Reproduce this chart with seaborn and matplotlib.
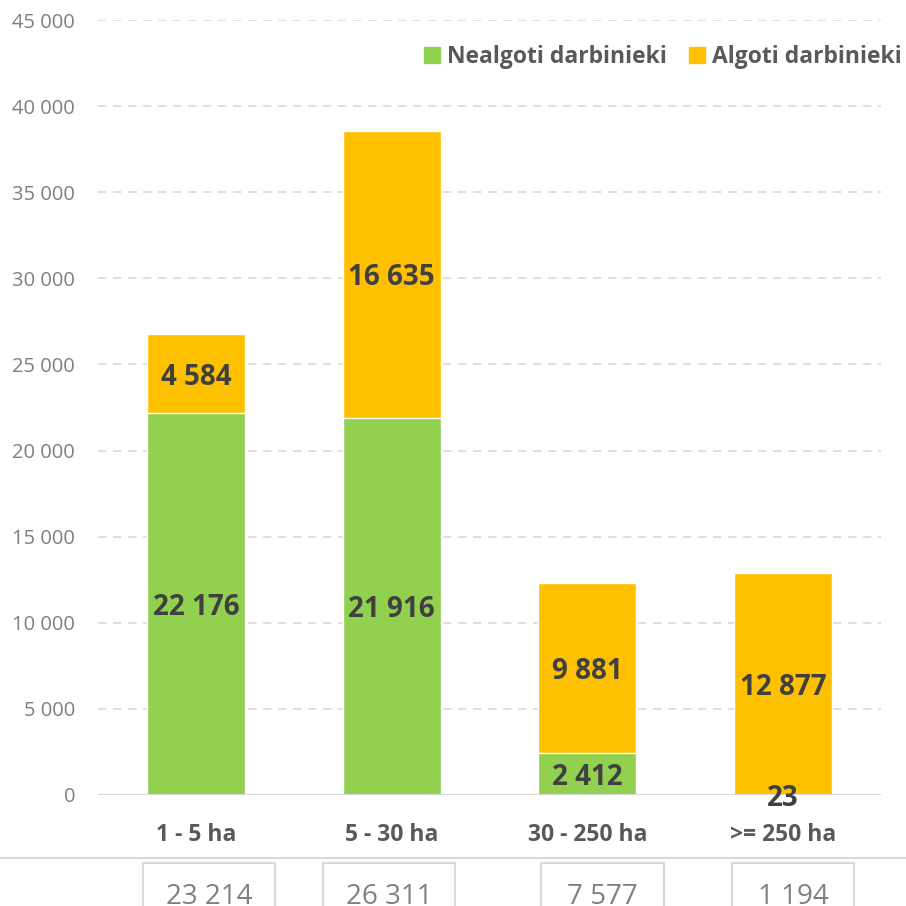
import matplotlib
matplotlib.use("Agg")
import matplotlib.pyplot as plt
from matplotlib.patches import Patch, Rectangle
from matplotlib.lines import Line2D
from matplotlib.ticker import FuncFormatter, MultipleLocator
import pandas as pd
import seaborn as sns

# dati
kategorijas = ["1 - 5 ha", "5 - 30 ha", "30 - 250 ha", ">= 250 ha"]
nealgoti = [22176, 21916, 2412, 23]
algoti = [4584, 16635, 9881, 12877]
kopa_apaksa = [23214, 26311, 7577, 1194]

zals = "#92D050"
oranzs = "#FFC000"

df = pd.DataFrame({"kat": kategorijas, "nealgoti": nealgoti, "algoti": algoti})
df["kopa"] = df["nealgoti"] + df["algoti"]

sns.set_theme(style="white")
plt.rcParams["font.family"] = ["Open Sans", "DejaVu Sans"]

fig = plt.figure(figsize=(9.06, 9.06), dpi=100)
ax = fig.add_axes([98 / 906, 111 / 906, 783 / 906, 775 / 906])

# kopējais stabiņš (oranžs), virsū zaļā daļa
sns.barplot(data=df, x="kat", y="kopa", color=oranzs, width=0.5, saturation=1, ax=ax, zorder=2)
sns.barplot(data=df, x="kat", y="nealgoti", color=zals, width=0.5, saturation=1, ax=ax, zorder=3)

ax.set_xlim(-0.5, 3.5)
ax.set_ylim(0, 45000)
ax.yaxis.set_major_locator(MultipleLocator(5000))
ax.yaxis.set_major_formatter(FuncFormatter(lambda v, p: f"{v:,.0f}".replace(",", " ")))
ax.grid(axis="y", color="#d9d9d9", linestyle=(0, (5, 4)), linewidth=1.2, zorder=0)
ax.set_axisbelow(True)
for s in ax.spines.values():
    s.set_visible(False)
ax.axhline(0, color="#d9d9d9", linewidth=1.5, zorder=4)

ax.set_xlabel("")
ax.set_ylabel("")
ax.tick_params(axis="y", length=0, pad=16.5, labelsize=14.5, labelcolor="#7f7f7f")
ax.tick_params(axis="x", length=0, pad=20, labelsize=16.5, labelcolor="#595959")
for t in ax.get_xticklabels():
    t.set_fontweight("bold")

# vērtības stabiņos
for i in range(len(kategorijas)):
    ax.text(i, nealgoti[i] / 2, f"{nealgoti[i]:,}".replace(",", " "), ha="center", va="center_baseline",
            fontsize=20, fontweight="bold", color="#404040", zorder=5)
    ax.text(i, nealgoti[i] + algoti[i] / 2, f"{algoti[i]:,}".replace(",", " "), ha="center",
            va="center_baseline", fontsize=20, fontweight="bold", color="#404040", zorder=5)

# leģenda
rokturi = [Patch(color=zals, label="Nealgoti darbinieki"), Patch(color=oranzs, label="Algoti darbinieki")]
fig.legend(handles=rokturi, loc="upper right", bbox_to_anchor=(902 / 906, 1 - 45 / 906), ncol=2,
           frameon=False, borderaxespad=0, borderpad=0,
           handlelength=0.7, handleheight=0.7, handletextpad=0.3, columnspacing=1.0,
           prop={"size": 16.5, "weight": "bold"}, labelcolor="#595959")

# apakšējā līnija un rāmīši
fig.add_artist(Line2D([0, 1], [1 - 858 / 906, 1 - 858 / 906], transform=fig.transFigure,
                      color="#d9d9d9", linewidth=1.5))
kastes = [(143, 275), (323, 455), (541, 664), (732, 854)]
for (x0, x1), v in zip(kastes, kopa_apaksa):
    fig.add_artist(Rectangle((x0 / 906, -0.02), (x1 - x0) / 906, (906 - 863) / 906 + 0.02,
                             transform=fig.transFigure, fill=False, edgecolor="#d9d9d9", linewidth=1.5))
    fig.text((x0 + x1) / 2 / 906, 1 - 897 / 906, f"{v:,}".replace(",", " "), ha="center", va="center",
             fontsize=20, color="#808080")

fig.savefig("out.png", dpi=100)
